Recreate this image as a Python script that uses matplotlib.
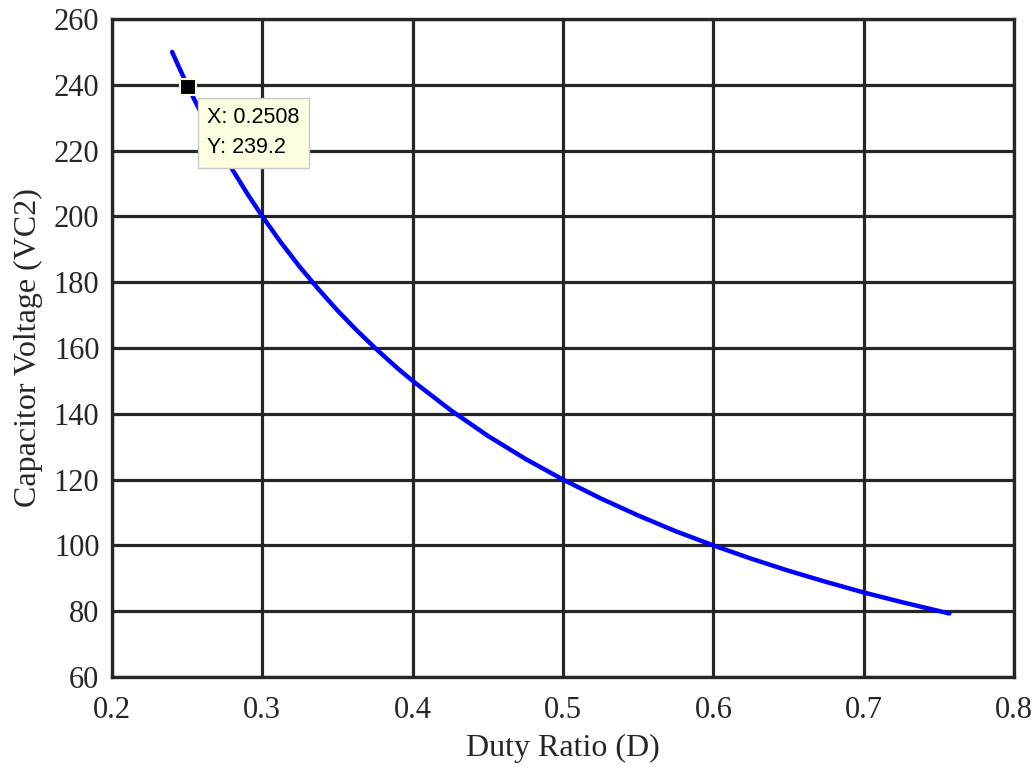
import matplotlib
matplotlib.use('Agg')
import matplotlib.pyplot as plt

# values
duty = [0.240, 0.245, 0.2508, 0.255, 0.26, 0.27, 0.28, 0.29, 0.30, 0.3125, 0.325, 0.3375,
        0.35, 0.3625, 0.375, 0.39, 0.40, 0.425, 0.45, 0.475, 0.50, 0.525, 0.55, 0.575,
        0.60, 0.625, 0.65, 0.675, 0.70, 0.725, 0.757]
vc2 = [250.0, 244.9, 239.2, 235.3, 230.8, 222.2, 214.3, 206.9, 200.0, 192.0, 184.6, 177.8,
       171.4, 165.5, 160.0, 153.8, 150.0, 141.2, 133.3, 126.3, 120.0, 114.3, 109.1, 104.3,
       100.0, 96.0, 92.3, 88.9, 85.7, 82.8, 79.3]

tip_x = 0.2508
tip_y = 239.2

xticks = [0.2, 0.3, 0.4, 0.5, 0.6, 0.7, 0.8]
yticks = [60, 80, 100, 120, 140, 160, 180, 200, 220, 240, 260]

plt.rcParams['font.family'] = ['Liberation Serif', 'DejaVu Serif']
dark = '#262626'

fig = plt.figure(figsize=(10.34, 7.67), dpi=100)
ax = fig.add_axes([112/1034, 1-677/767, (1014-112)/1034, (677-19)/767])

ax.plot(duty, vc2, color='#0000ff', lw=3.2, solid_capstyle='round', zorder=3)
ax.plot([tip_x], [tip_y], marker='s', ms=11, mfc='black', mec='#ffffe1', mew=1.5, zorder=5)

# data tip box
ax.annotate('X: %.4f\nY: %.1f' % (tip_x, tip_y), xy=(tip_x, tip_y),
            xytext=(19, -20), textcoords='offset pixels',
            family=['Liberation Sans', 'DejaVu Sans'], fontsize=15.5, va='top', ha='left',
            linespacing=1.55, zorder=6,
            bbox=dict(boxstyle='square,pad=0.45', fc='#ffffe1', ec='#c8c8c8', lw=1))

ax.set_xlim(0.2, 0.8)
ax.set_ylim(60, 260)
ax.set_xticks(xticks)
ax.set_yticks(yticks)
ax.set_xticklabels([str(t) for t in xticks])
ax.grid(True, color=dark, lw=2.3, alpha=1)
ax.set_axisbelow(True)
for s in ax.spines.values():
    s.set_color(dark)
    s.set_linewidth(2.4)
ax.tick_params(direction='in', length=6, width=2, colors=dark, labelsize=22)
ax.tick_params(axis='x', pad=14)
ax.tick_params(axis='y', pad=9)
for lab in ax.get_xticklabels() + ax.get_yticklabels():
    lab.set_color(dark)

ax.set_xlabel('Duty Ratio (D)', fontsize=23, color=dark, labelpad=6)
ax.set_ylabel('Capacitor Voltage (VC2)', fontsize=23, color=dark, labelpad=8)

fig.savefig('out.png', dpi=100)
